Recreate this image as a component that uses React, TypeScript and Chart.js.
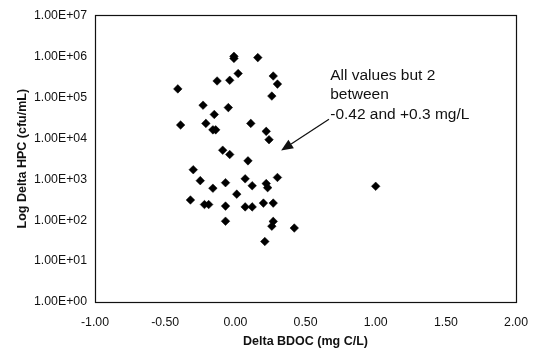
import React, { useEffect, useRef } from "react";
import { Chart, registerables } from "chart.js";

Chart.register(...registerables);

// Delta BDOC (mg C/L)
const deltaBDOC: number[] = [
  -0.01, -0.01, 0.16, 0.02, -0.13, -0.04, 0.27, 0.3, -0.41, 0.26,
  -0.23, -0.05, -0.15, -0.39, -0.21, 0.11, -0.16, -0.14, 0.22, 0.24,
  -0.09, -0.04, 0.09, -0.3, 0.3, -0.25, 0.07, -0.07, 0.22, 0.23,
  0.12, -0.16, 0.01, -0.32, -0.22, -0.19, -0.07, 0.07, 0.12, 0.2,
  0.27, -0.07, 0.27, 0.26, 0.42, 0.21, 1.0,
];
// Delta HPC (cfu/mL)
const deltaHPC: number[] = [
  1.0e6, 8.9e5, 9.3e5, 3.8e5, 2.5e5, 2.6e5, 3.3e5, 2.1e5, 1.6e5, 1.07e5,
  6.4e4, 5.6e4, 3.8e4, 2.1e4, 2.3e4, 2.3e4, 1.6e4, 1.6e4, 1.47e4, 9.2e3,
  5.1e3, 4.0e3, 2.8e3, 1.7e3, 1.1e3, 9.2e2, 1.02e3, 8.2e2, 7.8e2, 6.2e2,
  6.9e2, 6.0e2, 4.3e2, 3.1e2, 2.4e2, 2.4e2, 2.2e2, 2.1e2, 2.1e2, 2.6e2,
  2.6e2, 94, 93, 71, 64, 30, 670,
];

const xTickValues: number[] = [-1, -0.5, 0, 0.5, 1, 1.5, 2];
const xTickLabels: string[] = ["-1.00", "-0.50", "0.00", "0.50", "1.00", "1.50", "2.00"];
const yTickValues: number[] = [1, 1e1, 1e2, 1e3, 1e4, 1e5, 1e6, 1e7];
const yTickLabels: string[] = [
  "1.00E+00", "1.00E+01", "1.00E+02", "1.00E+03",
  "1.00E+04", "1.00E+05", "1.00E+06", "1.00E+07",
];

const annotationLines: string[] = ["All values but 2", "between", "-0.42 and +0.3 mg/L"];
const annotationAnchor = { x: 0.676, y: 3.4e5 };
const arrowFrom = { x: 0.667, y: 2.9e4 };
const arrowTo = { x: 0.326, y: 5.0e3 };

const FONT = "'Liberation Sans', Arial, Helvetica, sans-serif";

export default function App() {
  const canvasRef = useRef<HTMLCanvasElement | null>(null);

  useEffect(() => {
    const canvas = canvasRef.current;
    if (!canvas) return;

    const overlay = {
      id: "overlay",
      afterDatasetsDraw(chart: any) {
        const { ctx, chartArea } = chart;
        const xs = chart.scales.x;
        const ys = chart.scales.y;
        ctx.save();
        // plot frame
        ctx.strokeStyle = "#111";
        ctx.lineWidth = 1.2;
        ctx.strokeRect(
          Math.round(chartArea.left) + 0.5,
          Math.round(chartArea.top) + 0.5,
          Math.round(chartArea.right - chartArea.left),
          Math.round(chartArea.bottom - chartArea.top)
        );
        // annotation text
        ctx.fillStyle = "#111";
        ctx.font = `15.5px ${FONT}`;
        ctx.textAlign = "left";
        ctx.textBaseline = "middle";
        const tx = xs.getPixelForValue(annotationAnchor.x);
        const ty = ys.getPixelForValue(annotationAnchor.y);
        annotationLines.forEach((line, i) => {
          ctx.fillText(line, tx, ty + i * 19.5);
        });
        // arrow
        const x1 = xs.getPixelForValue(arrowFrom.x);
        const y1 = ys.getPixelForValue(arrowFrom.y);
        const x2 = xs.getPixelForValue(arrowTo.x);
        const y2 = ys.getPixelForValue(arrowTo.y);
        const ang = Math.atan2(y2 - y1, x2 - x1);
        const headLen = 12;
        const headW = 5;
        const bx = x2 - headLen * Math.cos(ang);
        const by = y2 - headLen * Math.sin(ang);
        ctx.strokeStyle = "#111";
        ctx.lineWidth = 1.3;
        ctx.beginPath();
        ctx.moveTo(x1, y1);
        ctx.lineTo(bx, by);
        ctx.stroke();
        ctx.beginPath();
        ctx.moveTo(x2, y2);
        ctx.lineTo(bx + headW * Math.sin(ang), by - headW * Math.cos(ang));
        ctx.lineTo(bx - headW * Math.sin(ang), by + headW * Math.cos(ang));
        ctx.closePath();
        ctx.fill();
        ctx.restore();
      },
    };

    const chart = new Chart(canvas, {
      type: "scatter",
      data: {
        datasets: [
          {
            label: "Delta HPC",
            data: deltaBDOC.map((x, i) => ({ x, y: deltaHPC[i] })),
            pointStyle: "rectRot",
            pointRadius: 4.3,
            pointHoverRadius: 4.3,
            backgroundColor: "#000",
            borderColor: "#000",
            borderWidth: 0.5,
          },
        ],
      },
      options: {
        responsive: false,
        animation: false,
        events: [],
        layout: { padding: { left: 0, right: 20, top: 15, bottom: 0 } },
        plugins: {
          legend: { display: false },
          tooltip: { enabled: false },
          title: { display: false },
        },
        scales: {
          x: {
            type: "linear",
            min: -1,
            max: 2,
            afterBuildTicks: (scale: any) => {
              scale.ticks = xTickValues.map((v) => ({ value: v }));
            },
            afterFit: (scale: any) => {
              scale.height = 50;
            },
            grid: { display: false, drawTicks: false },
            border: { display: false },
            ticks: {
              color: "#111",
              padding: 13,
              maxRotation: 0,
              autoSkip: false,
              font: { family: FONT, size: 12.3 },
              callback: (_v: any, i: number) => xTickLabels[i],
            },
            title: {
              display: true,
              text: "Delta BDOC (mg C/L)",
              color: "#111",
              font: { family: FONT, size: 12.5, weight: "bold" },
              padding: { top: 0, bottom: 3 },
            },
          },
          y: {
            type: "logarithmic",
            min: 1,
            max: 1e7,
            afterBuildTicks: (scale: any) => {
              scale.ticks = yTickValues.map((v) => ({ value: v }));
            },
            afterFit: (scale: any) => {
              scale.width = 95;
            },
            grid: { display: false, drawTicks: false },
            border: { display: false },
            ticks: {
              color: "#111",
              padding: 8,
              autoSkip: false,
              font: { family: FONT, size: 12.3 },
              callback: (_v: any, i: number) => yTickLabels[i],
            },
            title: {
              display: true,
              text: "Log Delta HPC (cfu/mL)",
              color: "#111",
              font: { family: FONT, size: 12.5, weight: "bold" },
              padding: { top: 15, bottom: 0 },
            },
          },
        },
      },
      plugins: [overlay],
    });

    return () => chart.destroy();
  }, []);

  return (
    <div style={{ position: "absolute", left: 0, top: 0, width: 541, height: 352, background: "#fff" }}>
      <canvas ref={canvasRef} width={541} height={352} />
    </div>
  );
}
